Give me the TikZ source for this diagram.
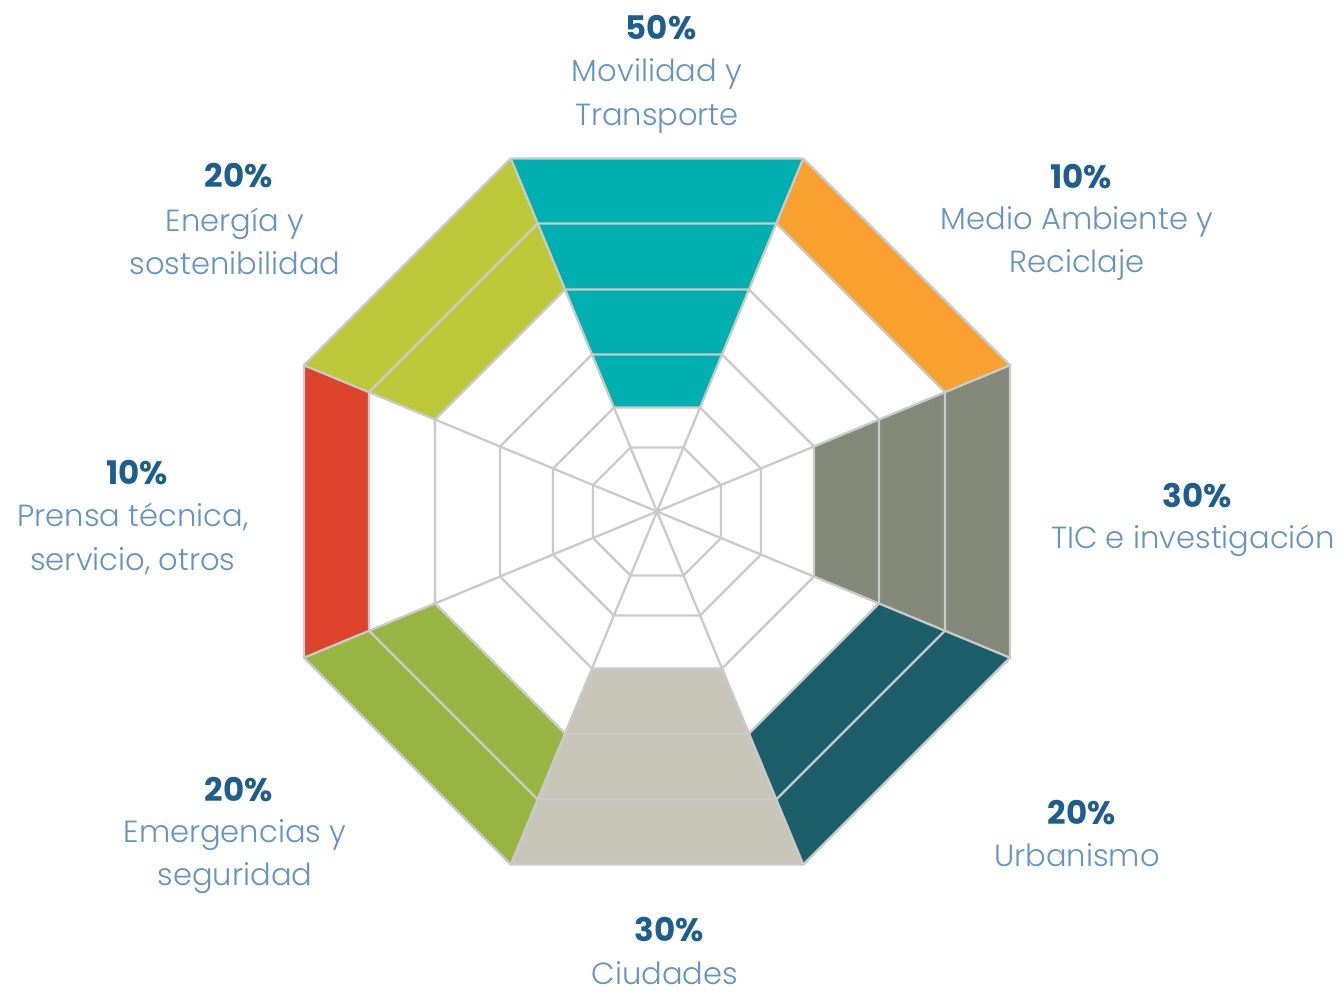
\documentclass[tikz,border=0pt]{standalone}
\usepackage{fontspec}
\setmainfont{Poppins}[UprightFont=* Light, BoldFont=* Bold]
\usepackage{tikz}

\definecolor{gridgray}{HTML}{CACACA}
\definecolor{pctblue}{HTML}{1D5E8E}
\definecolor{lblblue}{HTML}{6494C2}
\definecolor{movcol}{HTML}{00AFB0}
\definecolor{medcol}{HTML}{F8A12E}
\definecolor{ticcol}{HTML}{848879}
\definecolor{urbcol}{HTML}{1C5F6B}
\definecolor{ciucol}{HTML}{C8C5B9}
\definecolor{emecol}{HTML}{97B543}
\definecolor{precol}{HTML}{DE432B}
\definecolor{enecol}{HTML}{BCC837}

% band of one sector: colour, direction, inner and outer apothem
\newcommand{\sectorband}[4]{%
    \fill[#1] (#2-22.5:{#3*1.08239}) -- (#2+22.5:{#3*1.08239})
        -- (#2+22.5:{#4*1.08239}) -- (#2-22.5:{#4*1.08239}) -- cycle;}

\begin{document}
\begin{tikzpicture}[x=0.02cm, y=0.02cm,
        gridline/.style={draw=gridgray, line width=1.3pt, line join=round},
        pct/.style={text=pctblue, font=\bfseries\fontsize{18.5}{22}\selectfont},
        lbl/.style={text=lblblue, align=center, font=\fontsize{17.4}{24.6}\selectfont}]
        \useasboundingbox (-657, -481.5) rectangle (685, 511.5);

        \sectorband{movcol}{90}{104}{353}
        \sectorband{medcol}{45}{288}{353}
        \sectorband{ticcol}{0}{157}{353}
        \sectorband{urbcol}{-45}{222}{353}
        \sectorband{ciucol}{-90}{157}{353}
        \sectorband{emecol}{-135}{222}{353}
        \sectorband{precol}{180}{288}{353}
        \sectorband{enecol}{135}{222}{353}

        \foreach \a in {64, 104, 157, 222, 288, 353}
            \draw[gridline] (22.5:{\a*1.08239})
                \foreach \t in {67.5, 112.5, ..., 337.5} { -- (\t:{\a*1.08239}) } -- cycle;
        \foreach \t in {22.5, 67.5, ..., 337.5}
            \draw[gridline] (0, 0) -- (\t:{353*1.08239});

        \node[pct] (movpct) at (4, 483.5) {50\%};
        \node[lbl] (movlbl) at (0, 415.5) {Movilidad y\\Transporte};
        \node[pct] (enepct) at (-418, 335.5) {20\%};
        \node[lbl] (enelbl) at (-422, 270) {Energía y\\sostenibilidad};
        \node[pct] (medpct) at (424, 334.5) {10\%};
        \node[lbl] (medlbl) at (420, 268) {Medio Ambiente y\\Reciclaje};
        \node[pct] (prepct) at (-520, 38.5) {10\%};
        \node[lbl] (prelbl) at (-524, -27.5) {Prensa técnica,\\servicio, otros};
        \node[pct] (ticpct) at (540, 15.5) {30\%};
        \node[lbl] (ticlbl) at (536, -29.5) {TIC e investigación};
        \node[pct] (emepct) at (-418, -278.5) {20\%};
        \node[lbl] (emelbl) at (-422, -345) {Emergencias y\\seguridad};
        \node[pct] (urbpct) at (425, -301.5) {20\%};
        \node[lbl] (urblbl) at (420, -344) {Urbanismo};
        \node[pct] (ciupct) at (12, -418.5) {30\%};
        \node[lbl] (ciulbl) at (8, -461.5) {Ciudades};
\end{tikzpicture}
\end{document}
